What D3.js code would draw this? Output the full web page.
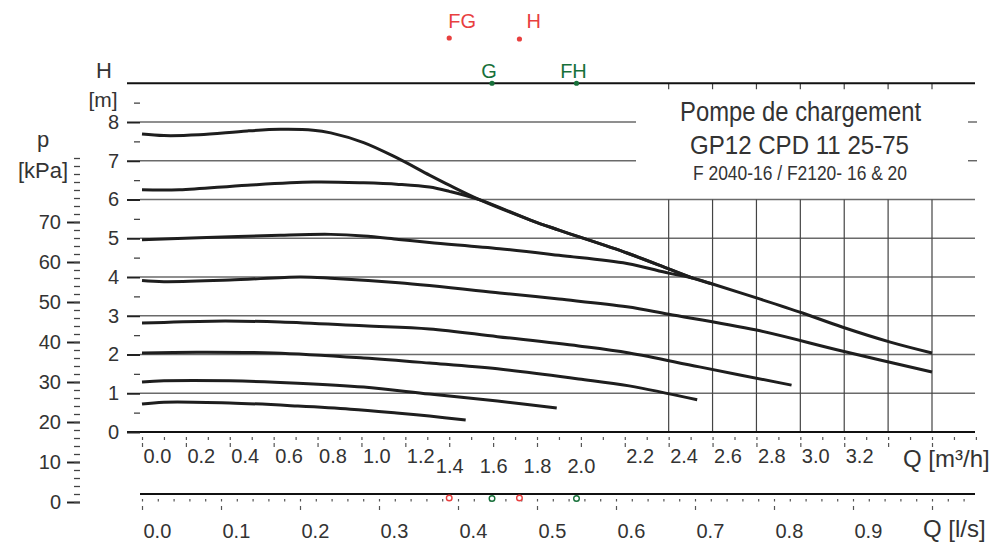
<!DOCTYPE html>
<html>
<head>
<meta charset="utf-8">
<script src="https://cdn.jsdelivr.net/npm/d3@7"></script>
<style>
body { margin: 0; background: #fff; }
svg text { font-family: "Liberation Sans", Arial, sans-serif; fill: #333; }
</style>
</head>
<body>
<div id="pump-chart"></div>
<script>
// tick values
var hTicks = [0, 1, 2, 3, 4, 5, 6, 7, 8];
var pTicks = [0, 10, 20, 30, 40, 50, 60, 70];
var qTicks = [0, 0.2, 0.4, 0.6, 0.8, 1.0, 1.2, 1.4, 1.6, 1.8, 2.0, 2.2, 2.4, 2.6, 2.8, 3.0, 3.2, 3.4, 3.6];
var qLabels = [0, 0.2, 0.4, 0.6, 0.8, 1.0, 1.2, 1.4, 1.6, 1.8, 2.0, 2.2, 2.4, 2.6, 2.8, 3.0, 3.2];
var qLowLabels = [1.4, 1.6, 1.8, 2.0];
var lsTicks = [0, 0.1, 0.2, 0.3, 0.4, 0.5, 0.6, 0.7, 0.8, 0.9, 1.0];
var lsLabels = [0, 0.1, 0.2, 0.3, 0.4, 0.5, 0.6, 0.7, 0.8, 0.9];
var gridQ = [2.4, 2.6, 2.8, 3.0, 3.2, 3.4, 3.6];
var fullGridH = [1, 2, 3, 4, 5, 6];
var shortGridH = [7, 8];

// pump curves, [Q m3/h, H m]
var curve1 = [[0, 7.69], [0.10, 7.65], [0.26, 7.67], [0.48, 7.77], [0.63, 7.81], [0.78, 7.79], [0.86, 7.72],
  [1.01, 7.47], [1.16, 7.08], [1.31, 6.63], [1.40, 6.37], [1.54, 5.99], [1.77, 5.47], [1.90, 5.21],
  [2.21, 4.62], [2.40, 4.21], [2.51, 3.97], [2.60, 3.82], [2.80, 3.46], [3.01, 3.07], [3.19, 2.71],
  [3.41, 2.32], [3.60, 2.04]];
var curve2 = [[0, 6.25], [0.17, 6.25], [0.48, 6.37], [0.78, 6.45], [1.01, 6.43], [1.17, 6.39], [1.31, 6.32],
  [1.40, 6.21], [1.54, 5.99], [1.77, 5.47], [1.90, 5.21], [2.21, 4.62], [2.40, 4.21], [2.51, 3.97]];
var curve3 = [[0, 4.96], [0.26, 5.01], [0.63, 5.08], [0.86, 5.10], [1.01, 5.06], [1.17, 4.97], [1.31, 4.89],
  [1.63, 4.73], [1.90, 4.56], [2.21, 4.35], [2.40, 4.10], [2.51, 3.97], [2.60, 3.82]];
var curve4 = [[0, 3.91], [0.10, 3.88], [0.40, 3.92], [0.72, 4.00], [0.86, 3.97], [1.17, 3.85], [1.63, 3.59],
  [1.90, 3.43], [2.21, 3.23], [2.40, 3.04], [2.80, 2.63], [3.19, 2.09], [3.60, 1.55]];
var curve5 = [[0, 2.81], [0.32, 2.86], [0.63, 2.84], [1.01, 2.74], [1.31, 2.66], [1.62, 2.46], [1.99, 2.22],
  [2.22, 2.04], [2.54, 1.68], [2.96, 1.21]];
var curve6 = [[0, 2.04], [0.25, 2.06], [0.60, 2.04], [1.01, 1.91], [1.31, 1.78], [1.62, 1.63], [1.99, 1.37],
  [2.22, 1.19], [2.53, 0.83]];
var curve7 = [[0, 1.29], [0.10, 1.32], [0.40, 1.32], [0.71, 1.26], [1.01, 1.16], [1.31, 0.98], [1.62, 0.80],
  [1.89, 0.62]];
var curve8 = [[0, 0.72], [0.10, 0.77], [0.40, 0.75], [0.71, 0.67], [0.95, 0.59], [1.16, 0.49], [1.31, 0.41],
  [1.475, 0.31]];

// marker points (Q m3/h)
var redNames = ["FG", "H"];
var redQ = [1.40, 1.72];
var greenNames = ["G", "FH"];
var greenQ = [1.595, 1.98];

var width = 993, height = 542;

var x = d3.scaleLinear().domain([0, 3.6]).range([142, 932]);
var y = d3.scaleLinear().domain([0, 9]).range([432, 83.25]);
var p = d3.scaleLinear().domain([0, 86]).range([502, 158]);
var ls = d3.scaleLinear().domain([0, 1]).range([142, 932]);

var svg = d3.select("#pump-chart")
    .append("svg")
    .attr("width", width)
    .attr("height", height);

// horizontal grid
svg.selectAll(".hgrid")
    .data(fullGridH)
    .enter().append("line")
    .attr("x1", 140).attr("x2", 975)
    .attr("y1", function(d) { return y(d); })
    .attr("y2", function(d) { return y(d); })
    .attr("stroke", "#6a6a6a").attr("stroke-width", 1.3);

svg.selectAll(".hgrid2")
    .data(shortGridH)
    .enter().append("line")
    .attr("x1", 140).attr("x2", 636)
    .attr("y1", function(d) { return y(d); })
    .attr("y2", function(d) { return y(d); })
    .attr("stroke", "#6a6a6a").attr("stroke-width", 1.3);

// right side small ticks
svg.selectAll(".rtick")
    .data(shortGridH)
    .enter().append("line")
    .attr("x1", 968).attr("x2", 977)
    .attr("y1", function(d) { return y(d); })
    .attr("y2", function(d) { return y(d); })
    .attr("stroke", "#555").attr("stroke-width", 1.3);

// vertical grid
svg.selectAll(".vgrid")
    .data(gridQ)
    .enter().append("line")
    .attr("x1", function(d) { return x(d); })
    .attr("x2", function(d) { return x(d); })
    .attr("y1", y(6)).attr("y2", y(0))
    .attr("stroke", "#444").attr("stroke-width", 1.2);

svg.selectAll(".toptick")
    .data(gridQ)
    .enter().append("line")
    .attr("x1", function(d) { return x(d); })
    .attr("x2", function(d) { return x(d); })
    .attr("y1", y(9)).attr("y2", y(9) + 6)
    .attr("stroke", "#444").attr("stroke-width", 1.2);

// frame lines
svg.append("line")
    .attr("x1", 127).attr("x2", 975).attr("y1", y(0)).attr("y2", y(0))
    .attr("stroke", "#111").attr("stroke-width", 2.2);
svg.append("line")
    .attr("x1", 127).attr("x2", 975).attr("y1", y(9)).attr("y2", y(9))
    .attr("stroke", "#111").attr("stroke-width", 2.2);
svg.append("line")
    .attr("x1", 140).attr("x2", 975).attr("y1", 494).attr("y2", 494)
    .attr("stroke", "#111").attr("stroke-width", 2.2);

// H axis
var hAxis = svg.append("g")
    .attr("transform", "translate(140,0)")
    .call(d3.axisLeft(y).tickValues(hTicks).tickSize(13).tickPadding(8).tickFormat(d3.format("d")));
hAxis.select(".domain").remove();
hAxis.selectAll("line").attr("stroke", "#222").attr("stroke-width", 2);
hAxis.selectAll("text").style("font-size", "20px");

var hMinor = svg.append("g")
    .attr("transform", "translate(140,0)")
    .call(d3.axisLeft(y).tickValues(d3.range(0.5, 9, 1)).tickSize(6).tickFormat(""));
hMinor.select(".domain").remove();
hMinor.selectAll("line").attr("stroke", "#444").attr("stroke-width", 1.3);

// p axis
var pAxis = svg.append("g")
    .attr("transform", "translate(80,0)")
    .call(d3.axisLeft(p).tickValues(pTicks).tickSize(13).tickPadding(6));
pAxis.select(".domain").remove();
pAxis.selectAll("line").attr("stroke", "#222").attr("stroke-width", 2);
pAxis.selectAll("text").style("font-size", "20px");

var pMinor = svg.append("g")
    .attr("transform", "translate(80,0)")
    .call(d3.axisLeft(p).tickValues(d3.range(0, 87, 2)).tickSize(6).tickFormat(""));
pMinor.select(".domain").remove();
pMinor.selectAll("line").attr("stroke", "#444").attr("stroke-width", 1.3);

// Q m3/h axis
var qMinor = svg.append("g")
    .attr("transform", "translate(0,437)")
    .call(d3.axisBottom(x).tickValues(d3.range(0, 3.85, 0.1)).tickSize(3).tickFormat(""));
qMinor.select(".domain").remove();
qMinor.selectAll("line").attr("stroke", "#555").attr("stroke-width", 1.2);

var qMajor = svg.append("g")
    .attr("transform", "translate(0,443)")
    .call(d3.axisBottom(x).tickValues(qTicks).tickSize(4).tickFormat(""));
qMajor.select(".domain").remove();
qMajor.selectAll("line").attr("stroke", "#555").attr("stroke-width", 1.2);

var qAxis = svg.append("g")
    .attr("transform", "translate(0,436)")
    .call(d3.axisBottom(x).tickValues(qLabels).tickSize(0).tickFormat(d3.format(".1f")));
qAxis.select(".domain").remove();
qAxis.selectAll("text")
    .style("font-size", "20px")
    .attr("dy", 0)
    .attr("text-anchor", function(d) { return qLowLabels.indexOf(d) >= 0 ? "middle" : "start"; })
    .attr("x", function(d) { return qLowLabels.indexOf(d) >= 0 ? 0 : 1; })
    .attr("y", function(d) { return qLowLabels.indexOf(d) >= 0 ? 37 : 27; });

// Q l/s axis
var lsMinor = svg.append("g")
    .attr("transform", "translate(0,499)")
    .call(d3.axisBottom(ls).tickValues(d3.range(0, 1.05, 0.02)).tickSize(2.5).tickFormat(""));
lsMinor.select(".domain").remove();
lsMinor.selectAll("line").attr("stroke", "#555").attr("stroke-width", 1.2);

var lsMajor = svg.append("g")
    .attr("transform", "translate(0,506)")
    .call(d3.axisBottom(ls).tickValues(lsTicks).tickSize(4).tickFormat(""));
lsMajor.select(".domain").remove();
lsMajor.selectAll("line").attr("stroke", "#555").attr("stroke-width", 1.2);

var lsAxis = svg.append("g")
    .attr("transform", "translate(0,538)")
    .call(d3.axisBottom(ls).tickValues(lsLabels).tickSize(0).tickFormat(d3.format(".1f")));
lsAxis.select(".domain").remove();
lsAxis.selectAll("text")
    .style("font-size", "20px")
    .attr("dy", 0).attr("y", 0).attr("x", 1)
    .attr("text-anchor", "start");

// curves
var line = d3.line()
    .x(function(d) { return x(d[0]); })
    .y(function(d) { return y(d[1]); })
    .curve(d3.curveCatmullRom.alpha(0.5));

svg.selectAll(".curve")
    .data([curve1, curve2, curve3, curve4, curve5, curve6, curve7, curve8])
    .enter().append("path")
    .attr("class", "curve")
    .attr("d", line)
    .attr("fill", "none")
    .attr("stroke", "#1e1e1e")
    .attr("stroke-width", 3)
    .attr("stroke-linecap", "butt");

// axis titles
svg.append("text").attr("x", 104).attr("y", 78).attr("text-anchor", "middle")
    .style("font-size", "22px").text("H");
svg.append("text").attr("x", 103).attr("y", 107).attr("text-anchor", "middle")
    .style("font-size", "21px").text("[m]");
svg.append("text").attr("x", 43).attr("y", 147).attr("text-anchor", "middle")
    .style("font-size", "22px").text("p");
svg.append("text").attr("x", 43).attr("y", 178).attr("text-anchor", "middle")
    .style("font-size", "22px").text("[kPa]");
svg.append("text").attr("x", 903).attr("y", 467)
    .style("font-size", "24px").text("Q [m³/h]");
svg.append("text").attr("x", 923).attr("y", 537)
    .style("font-size", "24px").text("Q [l/s]");

// title
svg.append("text").attr("x", 680).attr("y", 121)
    .attr("textLength", 241).attr("lengthAdjust", "spacingAndGlyphs")
    .style("font-size", "27px").text("Pompe de chargement");
svg.append("text").attr("x", 690).attr("y", 154)
    .attr("textLength", 219).attr("lengthAdjust", "spacingAndGlyphs")
    .style("font-size", "26px").text("GP12 CPD 11 25-75");
svg.append("text").attr("x", 693).attr("y", 180)
    .attr("textLength", 214).attr("lengthAdjust", "spacingAndGlyphs")
    .style("font-size", "20px").text("F 2040-16 / F2120- 16 & 20");

// markers
var red = "#e8403f", green = "#17703a";

svg.selectAll(".redDot")
    .data(redQ)
    .enter().append("circle")
    .attr("cx", function(d) { return x(d); })
    .attr("cy", function(d, i) { return i === 0 ? 38 : 39; })
    .attr("r", 2.6)
    .attr("fill", red);

svg.selectAll(".redName")
    .data(redNames)
    .enter().append("text")
    .attr("x", function(d, i) { return x(redQ[i]) + (i === 0 ? -1 : 7); })
    .attr("y", 28)
    .style("font-size", "20px")
    .style("fill", red)
    .text(function(d) { return d; });

svg.selectAll(".greenDot")
    .data(greenQ)
    .enter().append("circle")
    .attr("cx", function(d) { return x(d); })
    .attr("cy", y(9))
    .attr("r", 2.6)
    .attr("fill", green);

svg.selectAll(".greenName")
    .data(greenNames)
    .enter().append("text")
    .attr("x", function(d, i) { return x(greenQ[i]) - 3; })
    .attr("y", 78)
    .attr("text-anchor", "middle")
    .style("font-size", "20px")
    .style("fill", green)
    .text(function(d) { return d; });

svg.selectAll(".redRing")
    .data(redQ)
    .enter().append("circle")
    .attr("cx", function(d) { return x(d); })
    .attr("cy", 498)
    .attr("r", 2.8)
    .attr("fill", "#fff")
    .attr("stroke", red).attr("stroke-width", 1.4);

svg.selectAll(".greenRing")
    .data(greenQ)
    .enter().append("circle")
    .attr("cx", function(d) { return x(d); })
    .attr("cy", 498.5)
    .attr("r", 2.8)
    .attr("fill", "#fff")
    .attr("stroke", green).attr("stroke-width", 1.4);
</script>
</body>
</html>
